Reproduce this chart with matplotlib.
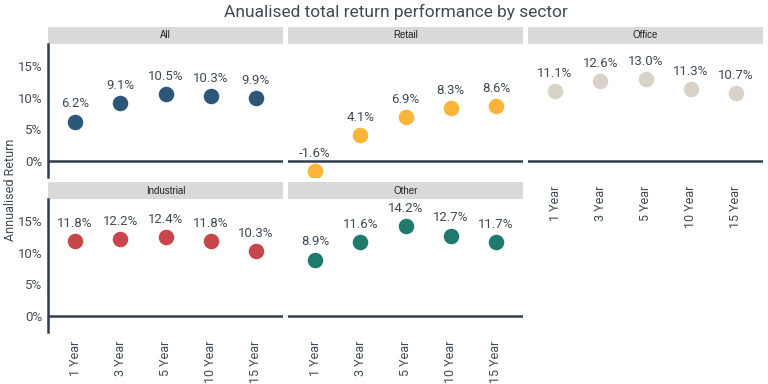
import matplotlib
matplotlib.use("Agg")
import matplotlib.pyplot as plt
from matplotlib.patches import Rectangle

plt.rcParams['font.family'] = ['Roboto', 'DejaVu Sans']

PERIODS = ['1 Year', '3 Year', '5 Year', '10 Year', '15 Year']
SECTORS = ['All', 'Retail', 'Office', 'Industrial', 'Other']

all_ret = [6.2, 9.1, 10.5, 10.3, 9.9]
retail_ret = [-1.6, 4.1, 6.9, 8.3, 8.6]
office_ret = [11.1, 12.6, 13.0, 11.3, 10.7]
industrial_ret = [11.8, 12.2, 12.4, 11.8, 10.3]
other_ret = [8.9, 11.6, 14.2, 12.7, 11.7]

COLORS = ['#2d5777', '#fbb43a', '#d9d2c9', '#c9454c', '#1f7a6d']
DARK = '#2f3d4c'
TEXT = '#3f4a56'

values = [all_ret, retail_ret, office_ret, industrial_ret, other_ret]

# panel positions in pixels: (left, top of plot area)
W, H = 768, 384
col_left = [48, 288, 528]
row_top = [44, 199]
pw, ph = 235, 133
strip_h = 17

fig = plt.figure(figsize=(7.68, 3.84), dpi=100)

for i, (name, vals, col) in enumerate(zip(SECTORS, values, COLORS)):
    r, c = divmod(i, 3)
    left = col_left[c] / W
    bottom = 1 - (row_top[r] + ph) / H
    ax = fig.add_axes([left, bottom, pw / W, ph / H])
    x = list(range(len(PERIODS)))
    ax.scatter(x, vals, s=125, color=col, zorder=3, linewidths=0)
    for xi, v in zip(x, vals):
        ax.annotate(f"{v:.1f}%", (xi, v), xytext=(0, 8), textcoords='offset points',
                    ha='center', va='bottom', fontsize=9.5, color=TEXT)
    ax.axhline(0, color=DARK, lw=1.8, zorder=2)
    ax.set_xlim(-0.6, 4.6)
    ax.set_ylim(-2.6, 18.5)
    for s in ['top', 'right', 'bottom']:
        ax.spines[s].set_visible(False)
    if c == 0:
        ax.spines['left'].set_color(DARK)
        ax.spines['left'].set_linewidth(1.8)
        ax.set_yticks([0, 5, 10, 15])
        ax.set_yticklabels(['0%', '5%', '10%', '15%'])
    else:
        ax.spines['left'].set_visible(False)
        ax.set_yticks([])
    ax.tick_params(axis='y', length=0, pad=4, labelsize=9.5, labelcolor=TEXT)
    ax.set_xticks(x)
    if r == 1 or c == 2:
        ax.set_xticklabels(PERIODS, rotation=90)
    else:
        ax.set_xticklabels([])
    ax.tick_params(axis='x', length=0, pad=6, labelsize=9, labelcolor=TEXT)
    ax.patch.set_visible(False)
    # facet strip
    ax.add_patch(Rectangle((0, 1), 1, strip_h / ph, transform=ax.transAxes,
                           facecolor='#d9d9d9', edgecolor='none', clip_on=False))
    ax.text(0.5, 1 + strip_h / ph / 2, name, transform=ax.transAxes,
            ha='center', va='center', fontsize=7, color='#222222',
            family=['Liberation Sans', 'DejaVu Sans'])

fig.text(0.516, 0.968, 'Anualised total return performance by sector',
         ha='center', va='center', fontsize=12.5, color=TEXT)
fig.text(0.014, 0.505, 'Annualised Return', rotation=90, ha='center', va='center',
         fontsize=9, color=TEXT)

fig.savefig('out.png', dpi=100)
